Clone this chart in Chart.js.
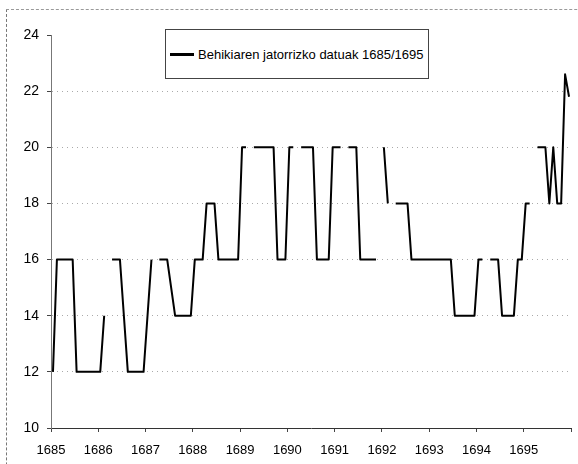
<!DOCTYPE html>
<html>
<head>
<meta charset="utf-8">
<script src="https://cdn.jsdelivr.net/npm/chart.js@4/dist/chart.umd.min.js"></script>
<style>
  html, body { margin: 0; padding: 0; background: #fff; }
  #wrap { position: relative; width: 578px; height: 464px; overflow: hidden; }
  #frame { position: absolute; left: 6px; top: 9px; width: 640px; height: 560px;
           border-left: 1px dashed #777; border-top: 1px dashed #999; }
  #legend { position: absolute; left: 165px; top: 29px; width: 264px; height: 50px;
            border: 1px solid #444; background: #fff; box-sizing: border-box;
            font-family: Arial, "Liberation Sans", sans-serif; font-size: 13px; color: #000;
            display: flex; align-items: center; }
  #legend .mark { display: inline-block; width: 24px; height: 3px; margin: 0 4px 0 4px; }
</style>
</head>
<body>
<div id="wrap">
  <div id="frame"></div>
  <canvas id="grafico" width="578" height="464"></canvas>
  <div id="legend"></div>
</div>
<script>
// urteak (etiketak ardatzean)
const years = [1685, 1686, 1687, 1688, 1689, 1690, 1691, 1692, 1693, 1694, 1695];
const serieName = 'Behikiaren jatorrizko datuak 1685/1695';

// hileko balioak, urte bakoitzeko lerro bat; null = daturik ez
const values = [
  12, 16, 16, 16, 16, 16, 12, 12, 12, 12, 12, 12,     // 1685
  12, 14, null, 16, 16, 16, 14, 12, 12, 12, 12, 12,   // 1686
  14, 16, null, 16, 16, 16, 15, 14, 14, 14, 14, 14,   // 1687
  16, 16, 16, 18, 18, 18, 16, 16, 16, 16, 16, 16,     // 1688
  20, 20, null, 20, 20, 20, 20, 20, 20, 16, 16, 16,   // 1689
  20, 20, null, 20, 20, 20, 20, 16, 16, 16, 16, 20,   // 1690
  20, 20, null, 20, 20, 20, 16, 16, 16, 16, 16, null, // 1691
  20, 18, null, 18, 18, 18, 18, 16, 16, 16, 16, 16,   // 1692
  16, 16, 16, 16, 16, 16, 14, 14, 14, 14, 14, 14,     // 1693
  16, 16, null, 16, 16, 16, 14, 14, 14, 14, 16, 16,   // 1694
  18, 18, null, 20, 20, 20, 18, 20, 18, 18, 22.6, 21.8 // 1695
];

const yTicks = [10, 12, 14, 16, 18, 20, 22, 24];

// hilabete bakoitza bere urteko tartearen erdian
const points = values.map((v, i) => ({ x: years[0] + (i + 0.5) / 12, y: v }));

const fontFamily = 'Arial, "Liberation Sans", sans-serif';

const chart = new Chart(document.getElementById('grafico').getContext('2d'), {
  type: 'line',
  data: {
    datasets: [{
      label: serieName,
      data: points,
      borderColor: '#000',
      borderWidth: 2,
      borderJoinStyle: 'round',
      pointRadius: 0,
      tension: 0,
      spanGaps: false,
      fill: false
    }]
  },
  options: {
    responsive: false,
    animation: false,
    layout: { padding: { left: 0, top: 35, right: 7, bottom: 0 } },
    plugins: { legend: { display: false }, tooltip: { enabled: false } },
    scales: {
      x: {
        type: 'linear',
        min: years[0],
        max: years[years.length - 1] + 1,
        afterFit: s => { s.height = 36; s.paddingLeft = 0; s.paddingRight = 0; },
        ticks: {
          stepSize: 1,
          autoSkip: false,
          maxRotation: 0,
          padding: 11,
          color: '#000',
          font: { family: fontFamily, size: 13 },
          callback: v => years.includes(v) ? String(v) : ''
        },
        grid: { drawOnChartArea: false, drawTicks: true, tickLength: 4, tickColor: '#444' },
        border: { color: '#333', width: 1 }
      },
      y: {
        min: yTicks[0],
        max: yTicks[yTicks.length - 1],
        afterFit: s => { s.width = 51; },
        afterBuildTicks: s => { s.ticks = yTicks.map(v => ({ value: v })); },
        ticks: { padding: 8, color: '#000', font: { family: fontFamily, size: 14 }, callback: v => String(v) },
        grid: {
          color: c => (c.tick && (c.tick.value === yTicks[0] || c.tick.value === yTicks[yTicks.length - 1])) ? 'rgba(0,0,0,0)' : '#aaaaaa',
          lineWidth: 1,
          drawTicks: true,
          tickLength: 4,
          tickColor: '#444'
        },
        border: { color: '#777', width: 1, dash: [1, 4] }
      }
    }
  }
});

// legenda (HTML testua)
const ds = chart.data.datasets[0];
document.getElementById('legend').innerHTML =
  '<span class="mark" style="background:' + ds.borderColor + '"></span><span>' + ds.label + '</span>';
</script>
</body>
</html>
